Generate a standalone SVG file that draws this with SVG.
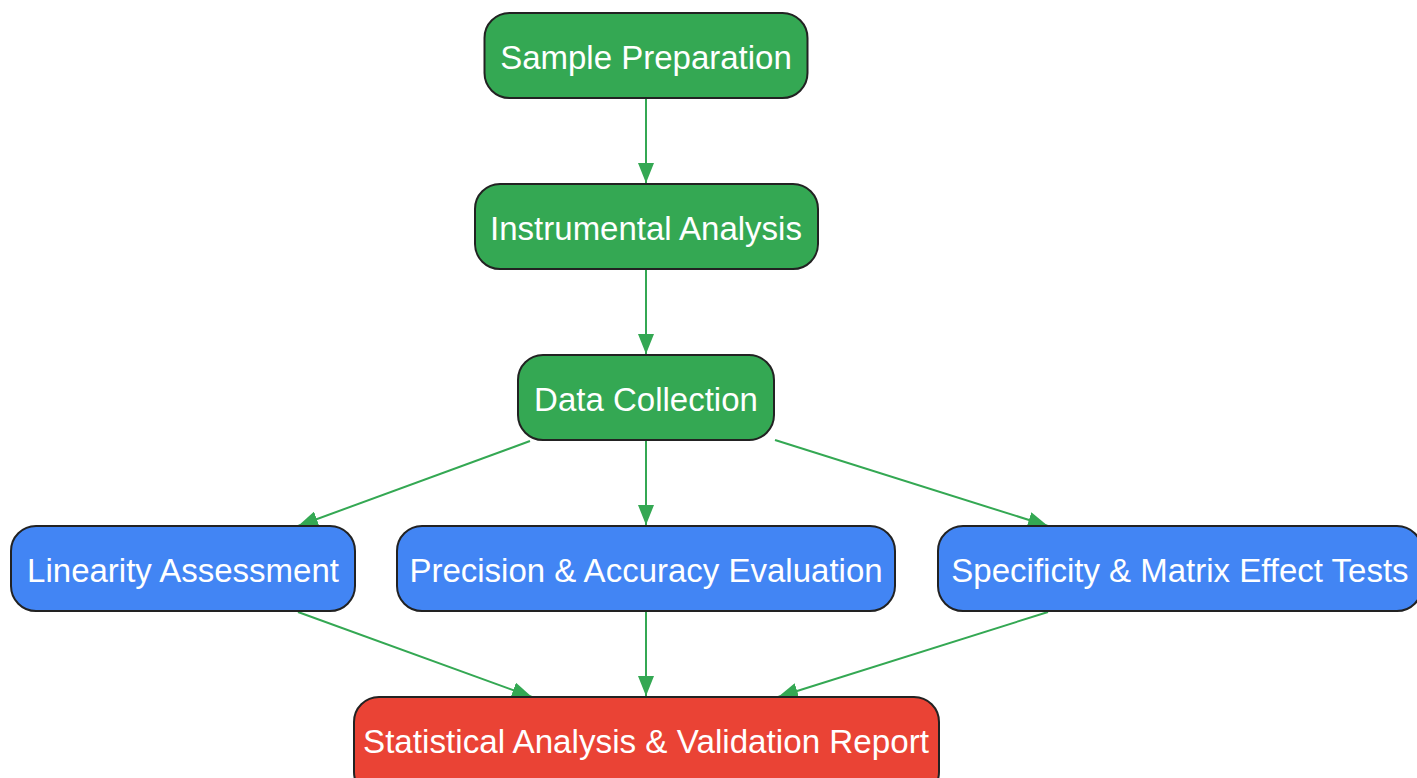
<svg xmlns="http://www.w3.org/2000/svg" width="1417" height="778" viewBox="0 0 1417 778">
<defs>
<style>
.n rect{stroke:#222;stroke-width:2}
.g rect{fill:#34a853}
.b rect{fill:#4285f4}
.r rect{fill:#ea4335}
.n text{font-family:"Liberation Sans",Arial,sans-serif;font-size:33px;fill:#fff;text-anchor:middle}
#edges line{stroke:#34a853;stroke-width:2;marker-end:url(#ah)}
</style>
<marker id="ah" viewBox="0 0 20 16" refX="20" refY="8" markerWidth="20" markerHeight="16" markerUnits="userSpaceOnUse" orient="auto">
<path d="M0,0 L20,8 L0,16 z" fill="#34a853"/>
</marker>
</defs>
<rect width="1417" height="778" fill="#fff"/>
<g id="edges">
<line x1="646" y1="99" x2="646" y2="183"/>
<line x1="646" y1="270" x2="646" y2="354"/>
<line x1="646" y1="441" x2="646" y2="525"/>
<line x1="530" y1="441" x2="298" y2="526"/>
<line x1="775" y1="440" x2="1048" y2="526"/>
<line x1="298" y1="612" x2="532" y2="697"/>
<line x1="646" y1="612" x2="646" y2="696"/>
<line x1="1048" y1="612" x2="778" y2="697"/>
</g>
<g id="sample" class="n g"><rect x="484.5" y="13" width="323" height="85" rx="25"/><text x="646" y="69">Sample Preparation</text></g>
<g id="instrumental" class="n g"><rect x="475" y="184" width="343" height="85" rx="25"/><text x="646" y="240">Instrumental Analysis</text></g>
<g id="data" class="n g"><rect x="518" y="355" width="256" height="85" rx="25"/><text x="646" y="411">Data Collection</text></g>
<g id="linearity" class="n b"><rect x="11" y="526" width="344" height="85" rx="25"/><text x="183" y="582">Linearity Assessment</text></g>
<g id="precision" class="n b"><rect x="397" y="526" width="498" height="85" rx="25"/><text x="646" y="582">Precision &amp; Accuracy Evaluation</text></g>
<g id="specificity" class="n b"><rect x="938" y="526" width="484" height="85" rx="25"/><text x="1180" y="582">Specificity &amp; Matrix Effect Tests</text></g>
<g id="report" class="n r"><rect x="354" y="697" width="585" height="100" rx="25"/><text x="646" y="753" textLength="566" lengthAdjust="spacingAndGlyphs">Statistical Analysis &amp; Validation Report</text></g>
</svg>
